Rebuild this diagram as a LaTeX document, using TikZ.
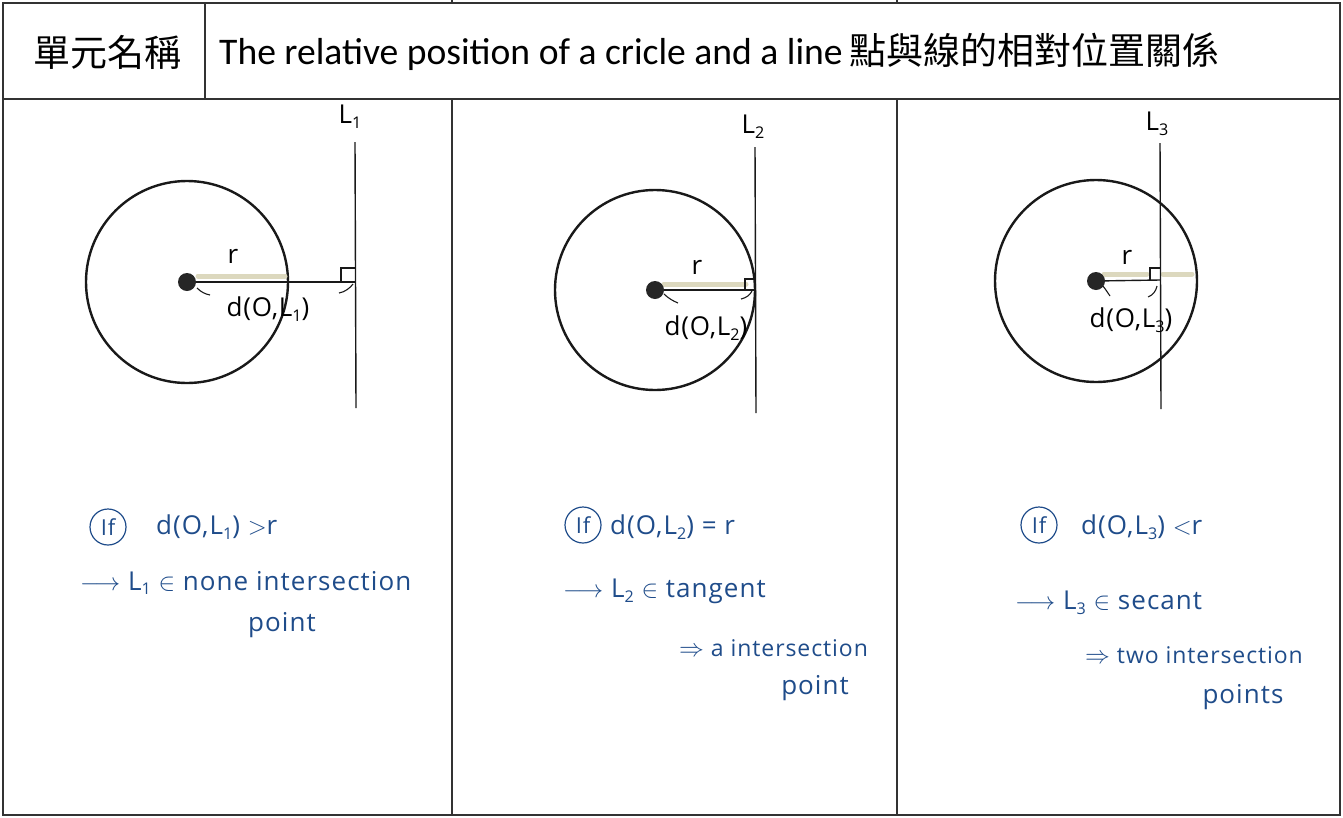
\documentclass[tikz,border=0pt]{standalone}
\usepackage{fontspec}
\setmainfont{Carlito}
\newfontfamily\cjk{Noto Sans CJK TC}
\newfontfamily\hand[LetterSpace=4]{Open Sans}
\newfontfamily\handfig[LetterSpace=3]{Open Sans}
\definecolor{inkblue}{HTML}{1F4C8A}
\definecolor{hlcol}{HTML}{DCD8BE}
\definecolor{framecol}{HTML}{333333}
\newcommand\sub[1]{\raisebox{-0.35ex}{\scalebox{0.62}{#1}}}
\begin{document}
\begin{tikzpicture}[x=1pt,y=-1pt,
  frame/.style={line width=1.6pt, draw=framecol},
  circ/.style={line width=2.4pt, draw=black!90},
  ln/.style={line width=1.4pt, draw=black!90},
  thinln/.style={line width=1.1pt, draw=black!90},
  hl/.style={line width=5pt, draw=hlcol, line cap=round},
  dot/.style={circle, fill=black!85, minimum size=18pt, inner sep=0pt},
  ink/.style={text=inkblue, font=\hand\fontsize{26}{30}\selectfont, inner sep=0pt},
  inksm/.style={text=inkblue, font=\hand\fontsize{23}{27}\selectfont, inner sep=0pt},
  ifc/.style={circle, draw=inkblue, line width=1.2pt, text=inkblue, font=\hand\fontsize{22}{24}\selectfont, inner sep=2pt, minimum size=36pt},
  figlab/.style={text=black, font=\handfig\fontsize{26}{28}\selectfont, inner sep=0pt}
]
\useasboundingbox (0,0) rectangle (1343,817);
% ---------- table frame ----------
\coordinate (TL) at (3,3); \coordinate (TR) at (1340,3);
\coordinate (ML) at (3,99); \coordinate (MR) at (1340,99);
\coordinate (BL) at (3,815); \coordinate (BR) at (1340,815);
\draw[frame] (TL) -- (TR) -- (BR) -- (BL) -- cycle;
\draw[frame] (ML) -- (MR);
\draw[frame] (205,3) -- (205,99);
\draw[frame] (452,99) -- (452,815);
\draw[frame] (897,99) -- (897,815);
\draw[frame] (452,0) -- (452,3);
\draw[frame] (897,0) -- (897,3);
% ---------- header ----------
\node[font=\cjk\fontsize{37}{39}\selectfont, inner sep=0pt] (unit) at (107,52) {單元名稱};
\node[anchor=west, inner sep=0pt] (title) at (219,52)
  {{\fontsize{37.6}{40}\selectfont The relative position of a cricle and a line}\hspace{7pt}{\cjk\fontsize{37}{39}\selectfont 點與線的相對位置關係}};
% ---------- panel 1 ----------
\coordinate (O1) at (187,282);
\draw[circ] (O1) circle[radius=101pt];
\draw[hl] (198,276) -- (285,276);
\coordinate (L1t) at (355,142); \coordinate (L1b) at (356,408);
\draw[ln] (L1t) -- (L1b);
\coordinate (F1) at (355,282);
\draw[ln] (O1) -- (F1);
\draw[thinln] (341,282) -- (341,268) -- (355,268);
\draw[thinln] (197,288) .. controls (201,292) and (205,294) .. (210,295);
\draw[thinln] (339,293) .. controls (345,292) and (350,288) .. (353,284);
\node[dot] (D1) at (O1) {};
\node[figlab] (r1) at (233,256) {r};
\node[figlab] (d1) at (268,309) {d(O,L\sub{1})};
\node[figlab] (L1) at (350,117) {L\sub{1}};
\node[ifc] (if1) at (108,527) {If};
\node[ink, anchor=west] (c1) at (156,527) {d(O,L\sub{1}) $>$r};
\node[ink, anchor=west] (a1) at (80,583) {$\longrightarrow$ L\sub{1} $\in$ none intersection};
\node[ink] (p1) at (282,625) {point};
% ---------- panel 2 ----------
\coordinate (O2) at (655,290);
\draw[circ] (O2) circle[radius=100pt];
\draw[hl] (664,284) -- (746,284);
\coordinate (L2t) at (755,147); \coordinate (L2b) at (756,413);
\draw[ln] (L2t) -- (L2b);
\coordinate (F2) at (755,290);
\draw[ln] (O2) -- (F2);
\draw[thinln] (745,290) -- (745,279) -- (755,279);
\draw[thinln] (664,294) .. controls (668,298) and (673,301) .. (678,303);
\draw[thinln] (741,299) .. controls (746,298) and (750,295) .. (752,291);
\node[dot] (D2) at (O2) {};
\node[figlab] (r2) at (697,267) {r};
\node[figlab] (d2) at (706,328) {d(O,L\sub{2})};
\node[figlab] (L2) at (753,127) {L\sub{2}};
\node[ifc] (if2) at (583,525) {If};
\node[ink, anchor=west] (c2) at (610,527) {d(O,L\sub{2}) = r};
\node[ink, anchor=west] (a2) at (563,591) {$\longrightarrow$ L\sub{2} $\in$ tangent};
\node[inksm, anchor=west] (b2) at (679,648) {$\Rightarrow$ a intersection};
\node[ink] (p2) at (815,688) {point};
% ---------- panel 3 ----------
\coordinate (O3) at (1096,281);
\draw[circ] (O3) circle[radius=101pt];
\draw[hl] (1104,274) -- (1147,274);
\draw[hl] (1163,274) -- (1192,274);
\coordinate (L3t) at (1160,143); \coordinate (L3b) at (1161,409);
\draw[ln] (L3t) -- (L3b);
\coordinate (F3) at (1160,280);
\draw[ln] (O3) -- (F3);
\draw[thinln] (1150,280) -- (1150,268) -- (1160,268);
\draw[thinln] (1103,286) .. controls (1106,290) and (1108,293) .. (1110,296);
\draw[thinln] (1148,297) .. controls (1153,295) and (1156,291) .. (1157,286);
\node[dot] (D3) at (O3) {};
\node[figlab] (r3) at (1127,257) {r};
\node[figlab] (d3) at (1131,320) {d(O,L\sub{3})};
\node[figlab] (L3) at (1157,124) {L\sub{3}};
\node[ifc] (if3) at (1039,525) {If};
\node[ink, anchor=west] (c3) at (1081,527) {d(O,L\sub{3}) $<$r};
\node[ink, anchor=west] (a3) at (1015,603) {$\longrightarrow$ L\sub{3} $\in$ secant};
\node[inksm, anchor=west] (b3) at (1085,655) {$\Rightarrow$ two intersection};
\node[ink] (p3) at (1243,697) {points};
\end{tikzpicture}
\end{document}
